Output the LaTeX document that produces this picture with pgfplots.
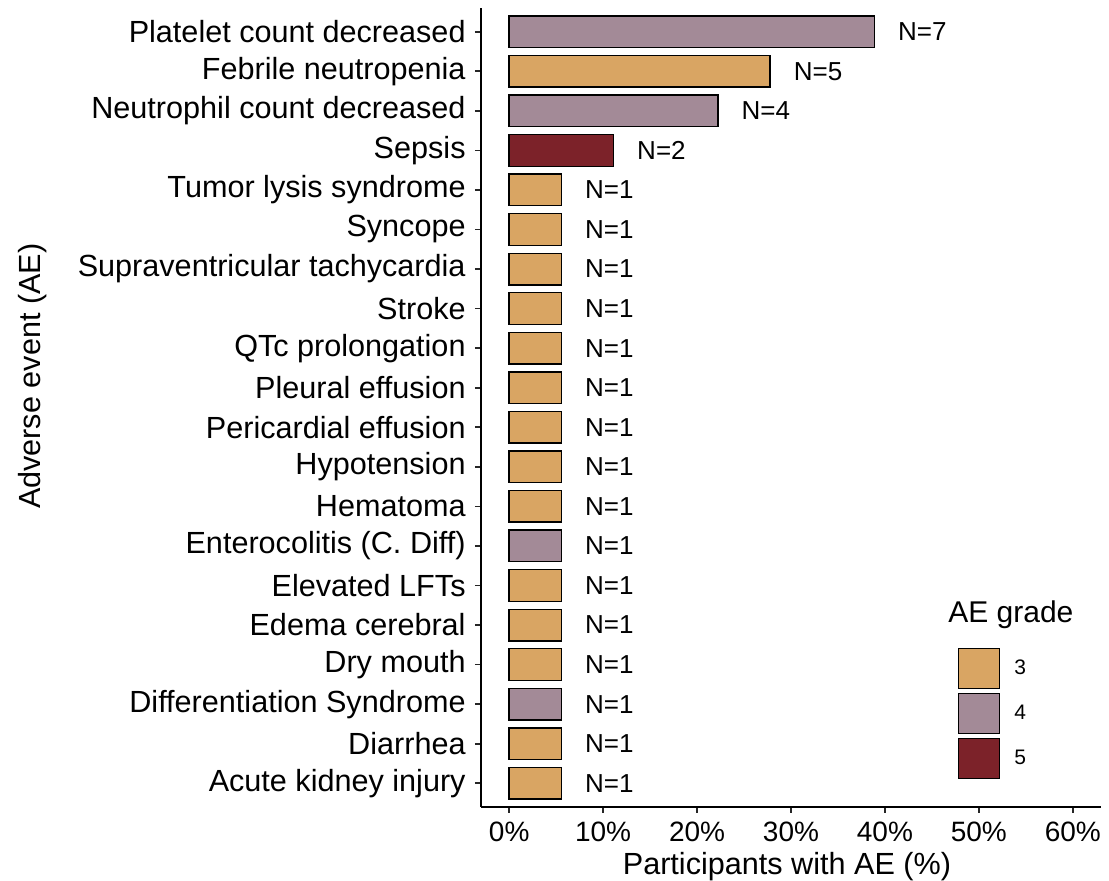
\documentclass[border=0pt]{standalone}
\usepackage{pgfplots}
\pgfplotsset{compat=1.18}
\usepackage{fontspec}
\setmainfont{Liberation Sans}
\definecolor{g3}{HTML}{D9A563}
\definecolor{g4}{HTML}{A38A97}
\definecolor{g5}{HTML}{7C2229}
\begin{document}
\begin{tikzpicture}
\path[use as bounding box] (-240.5pt,-37pt) rectangle (314pt,403.5pt);
\begin{axis}[
  at={(0pt,0pt)}, anchor=south west,
  scale only axis, width=310pt, height=399.5pt,
  xmin=-3, xmax=63, ymin=0.4, ymax=20.6,
  axis x line*=bottom, axis y line*=left,
  axis line style={line width=0.8pt, black},
  xbar, clip=false,
  tick align=outside, major tick length=3pt,
  tick style={line width=0.8pt, black!85},
  xtick={0,10,20,30,40,50,60},
  xticklabels={0\%,10\%,20\%,30\%,40\%,50\%,60\%},
  xticklabel style={font=\fontsize{14pt}{16pt}\selectfont, anchor=base, inner sep=0pt, yshift=-14.5pt},
  ytick={1,...,20},
  yticklabels={Acute kidney injury,Diarrhea,Differentiation Syndrome,Dry mouth,Edema cerebral,Elevated LFTs,Enterocolitis (C. Diff),Hematoma,Hypotension,Pericardial effusion,Pleural effusion,QTc prolongation,Stroke,Supraventricular tachycardia,Syncope,Tumor lysis syndrome,Sepsis,Neutrophil count decreased,Febrile neutropenia,Platelet count decreased},
  yticklabel style={font=\fontsize{15.3pt}{18pt}\selectfont, anchor=east, inner sep=0pt, xshift=-4.5pt},
  xlabel={Participants with AE (\%)},
  xlabel style={font=\fontsize{15.3pt}{18pt}\selectfont, at={(rel axis cs:0.4935,-0.0851)}, anchor=base, inner sep=0pt},
  ylabel={Adverse event (AE)},
  ylabel style={font=\fontsize{15.3pt}{18pt}\selectfont, at={(rel axis cs:-0.724,0.539)}, anchor=center, inner sep=0pt},
  point meta=explicit symbolic,
  nodes near coords={N=\pgfplotspointmeta},
  every node near coord/.append style={font=\fontsize{13pt}{15pt}\selectfont, anchor=west, inner sep=0pt, xshift=11.5pt, black},
  legend image code/.code={\draw[#1, line width=0.7pt] (0pt,-10pt) rectangle (20.5pt,10pt);},
  legend style={at={(rel axis cs:0.7694,0.199)}, anchor=north west, draw=none, fill=none, inner sep=0pt, outer sep=0pt, row sep=1.8pt, column sep=7pt, font=\fontsize{10.5pt}{12pt}\selectfont, nodes={inner sep=0pt, anchor=west}},
  legend cell align=left,
]
\addplot[bar shift=0pt, bar width=0.8, fill=g3, draw=black, line width=0.7pt] coordinates {
  (27.78,19) [5]
  (5.556,16) [1] (5.556,15) [1] (5.556,14) [1] (5.556,13) [1] (5.556,12) [1]
  (5.556,11) [1] (5.556,10) [1] (5.556,9) [1] (5.556,8) [1]
  (5.556,6) [1] (5.556,5) [1] (5.556,4) [1] (5.556,2) [1] (5.556,1) [1]
};
\addlegendentry{3}
\addplot[bar shift=0pt, bar width=0.8, fill=g4, draw=black, line width=0.7pt] coordinates {
  (38.89,20) [7] (22.22,18) [4] (5.556,7) [1] (5.556,3) [1]
};
\addlegendentry{4}
\addplot[bar shift=0pt, bar width=0.8, fill=g5, draw=black, line width=0.7pt] coordinates {
  (11.11,17) [2]
};
\addlegendentry{5}
\node[anchor=base west, inner sep=0pt, font=\fontsize{15pt}{18pt}\selectfont] at (rel axis cs:0.7532,0.2303) {AE grade};
\end{axis}
\end{tikzpicture}
\end{document}
